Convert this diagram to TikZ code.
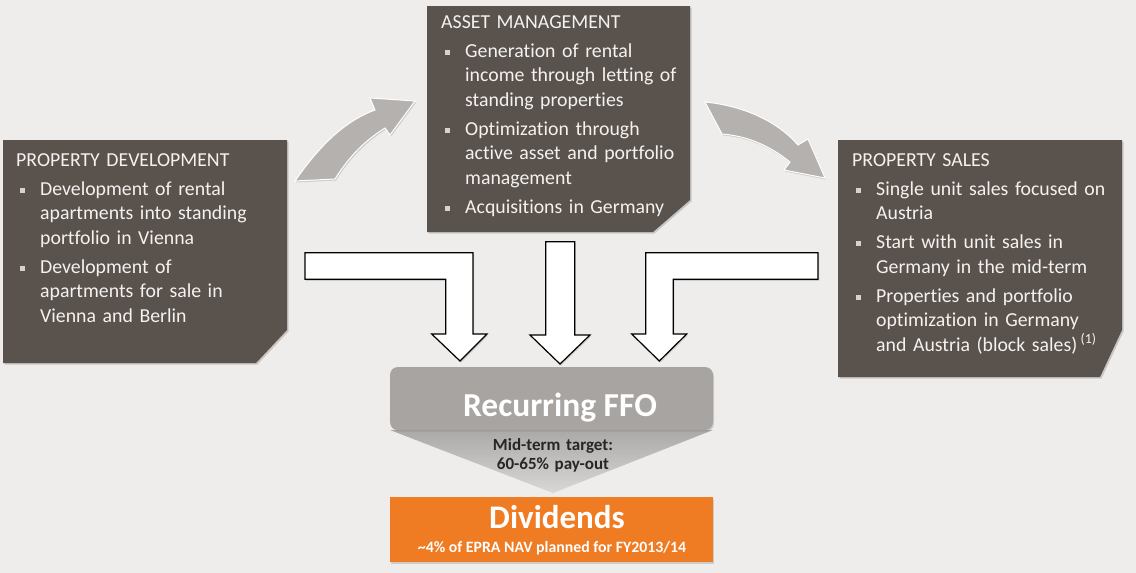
\documentclass[tikz,border=0pt]{standalone}
\usepackage{xcolor}
\usepackage{fontspec}
\setmainfont[Ligatures={TeX,NoCommon}]{Carlito}
\usetikzlibrary{shadows}

\definecolor{bgcol}{HTML}{EEEDEB}
\definecolor{boxcol}{HTML}{5A524D}
\definecolor{txtcol}{HTML}{F4F2F0}
\definecolor{arrcol}{HTML}{B4B1AE}
\definecolor{ffocol}{HTML}{A8A4A1}
\definecolor{funcol}{HTML}{C9C7C5}
\definecolor{divcol}{HTML}{EF7B22}

\newcommand{\bulsq}{\textcolor{txtcol!80!boxcol}{\raisebox{2.5pt}{\rule{5pt}{5pt}}}}
\newcommand{\pitem}[1]{\par\vspace{4.5pt}\hangindent=24pt\hangafter=1\noindent
  \makebox[24pt][l]{\hspace{3.5pt}\bulsq}{\let\\\newline#1}\par}

\tikzset{
  boxfill/.style={fill=boxcol, drop shadow={shadow xshift=1.5pt, shadow yshift=-1.5pt, opacity=0.35}},
  boxtext/.style={anchor=base west, inner sep=0pt, text width=300pt, align=left, text=txtcol,
    font=\fontsize{19.8}{24.5}\selectfont},
  curvearrow/.style={fill=arrcol, draw=white, line width=1pt,
    drop shadow={shadow xshift=1pt, shadow yshift=-1.5pt, opacity=0.3}},
  downarrow/.style={fill=white, draw=black, line width=1.2pt, line join=miter,
    drop shadow={shadow xshift=1pt, shadow yshift=-1.5pt, opacity=0.3}},
}

\begin{document}
\begin{tikzpicture}[x=1pt, y=-1pt]
    \fill[bgcol] (0,0) rectangle (1136,573);
    \useasboundingbox (0,0) rectangle (1136,573);

    \fill[boxfill] (3,140) -- (287,140) -- (287,330) -- (256,363) -- (3,363) -- cycle;
    \fill[boxfill] (427,6) -- (690,6) -- (690,200) -- (653,232) -- (427,232) -- cycle;
    \fill[boxfill] (838,140) -- (1122,140) -- (1122,330) -- (1100,377) -- (838,377) -- cycle;

    \node[boxtext] (devtext) at (16,166) {PROPERTY DEVELOPMENT
        \pitem{Development of rental\\apartments into standing\\portfolio in Vienna}
        \pitem{Development of\\apartments for sale in\\Vienna and Berlin}};
    \node[boxtext] (amtext) at (441,28) {ASSET MANAGEMENT
        \pitem{Generation of rental\\income through letting of\\standing properties}
        \pitem{Optimization through\\active asset and portfolio\\management}
        \pitem{Acquisitions in Germany}};
    \node[boxtext] (salestext) at (852,166) {PROPERTY SALES
        \pitem{Single unit sales focused on\\Austria}
        \pitem{Start with unit sales in\\Germany in the mid-term}
        \pitem{Properties and portfolio\\optimization in Germany\\and Austria (block sales)\,\textsuperscript{(1)}}};

    \draw[curvearrow] (295,181) .. controls (320,145) and (345,121) .. (375,110)
        -- (370,98) -- (415,101) -- (390,135) -- (385,128)
        .. controls (366,140) and (350,155) .. (335,179) -- cycle;
    \draw[curvearrow] (705,102) .. controls (745,106) and (778,122) .. (798,145)
        -- (808,139) -- (825,178) -- (784,170) -- (790,162)
        .. controls (770,146) and (748,136) .. (722,134) -- cycle;

    \draw[downarrow] (305,252.7) -- (473,252.7) -- (473,334) -- (487,334) -- (460,361)
        -- (431.7,334) -- (445.7,334) -- (445.7,279.3) -- (305,279.3) -- cycle;
    \draw[downarrow] (545.7,241.7) -- (574.7,241.7) -- (574.7,335) -- (590,335) -- (560,364)
        -- (530,335) -- (545.7,335) -- cycle;
    \draw[downarrow] (818,252.7) -- (645.7,252.7) -- (645.7,334) -- (631.7,334) -- (659.3,361)
        -- (686.7,334) -- (673.3,334) -- (673.3,279.3) -- (818,279.3) -- cycle;

    \coordinate (fw) at (390,430);
    \coordinate (fe) at (713,430);
    \coordinate (ft) at (553,493);
    \shade[top color=funcol!85!black, bottom color=funcol!70!white] (fw) -- (fe) -- (ft) -- cycle;
    \node[fill=ffocol, rounded corners=8pt, minimum width=323pt, minimum height=63pt,
        inner sep=0pt, drop shadow={shadow xshift=1pt, shadow yshift=-1.5pt, opacity=0.3}]
        (ffo) at (551.5,398.5) {};
    \node[anchor=base, inner sep=0pt, text=white, font=\bfseries\fontsize{33.5}{33.5}\selectfont]
        (ffotext) at (560,416) {Recurring FFO};
    \node[anchor=base, inner sep=0pt, text width=200pt, align=center, text=black!85,
        font=\bfseries\fontsize{17}{18.5}\selectfont] (payout) at (553,450.5) {Mid-term target:\\60-65\% pay-out};

    \node[fill=divcol, minimum width=323pt, minimum height=65pt, inner sep=0pt,
        drop shadow={shadow xshift=1pt, shadow yshift=-1.5pt, opacity=0.3}] (div) at (551.5,529.5) {};
    \node[anchor=base, inner sep=0pt, text=white, font=\bfseries\fontsize{33}{33}\selectfont]
        (divtext) at (557,528.5) {Dividends};
    \node[anchor=base, inner sep=0pt, text=white, font=\bfseries\fontsize{15.8}{15.8}\selectfont]
        (navtext) at (552,552.5) {\textasciitilde4\% of EPRA NAV planned for FY2013/14};
\end{tikzpicture}
\end{document}
